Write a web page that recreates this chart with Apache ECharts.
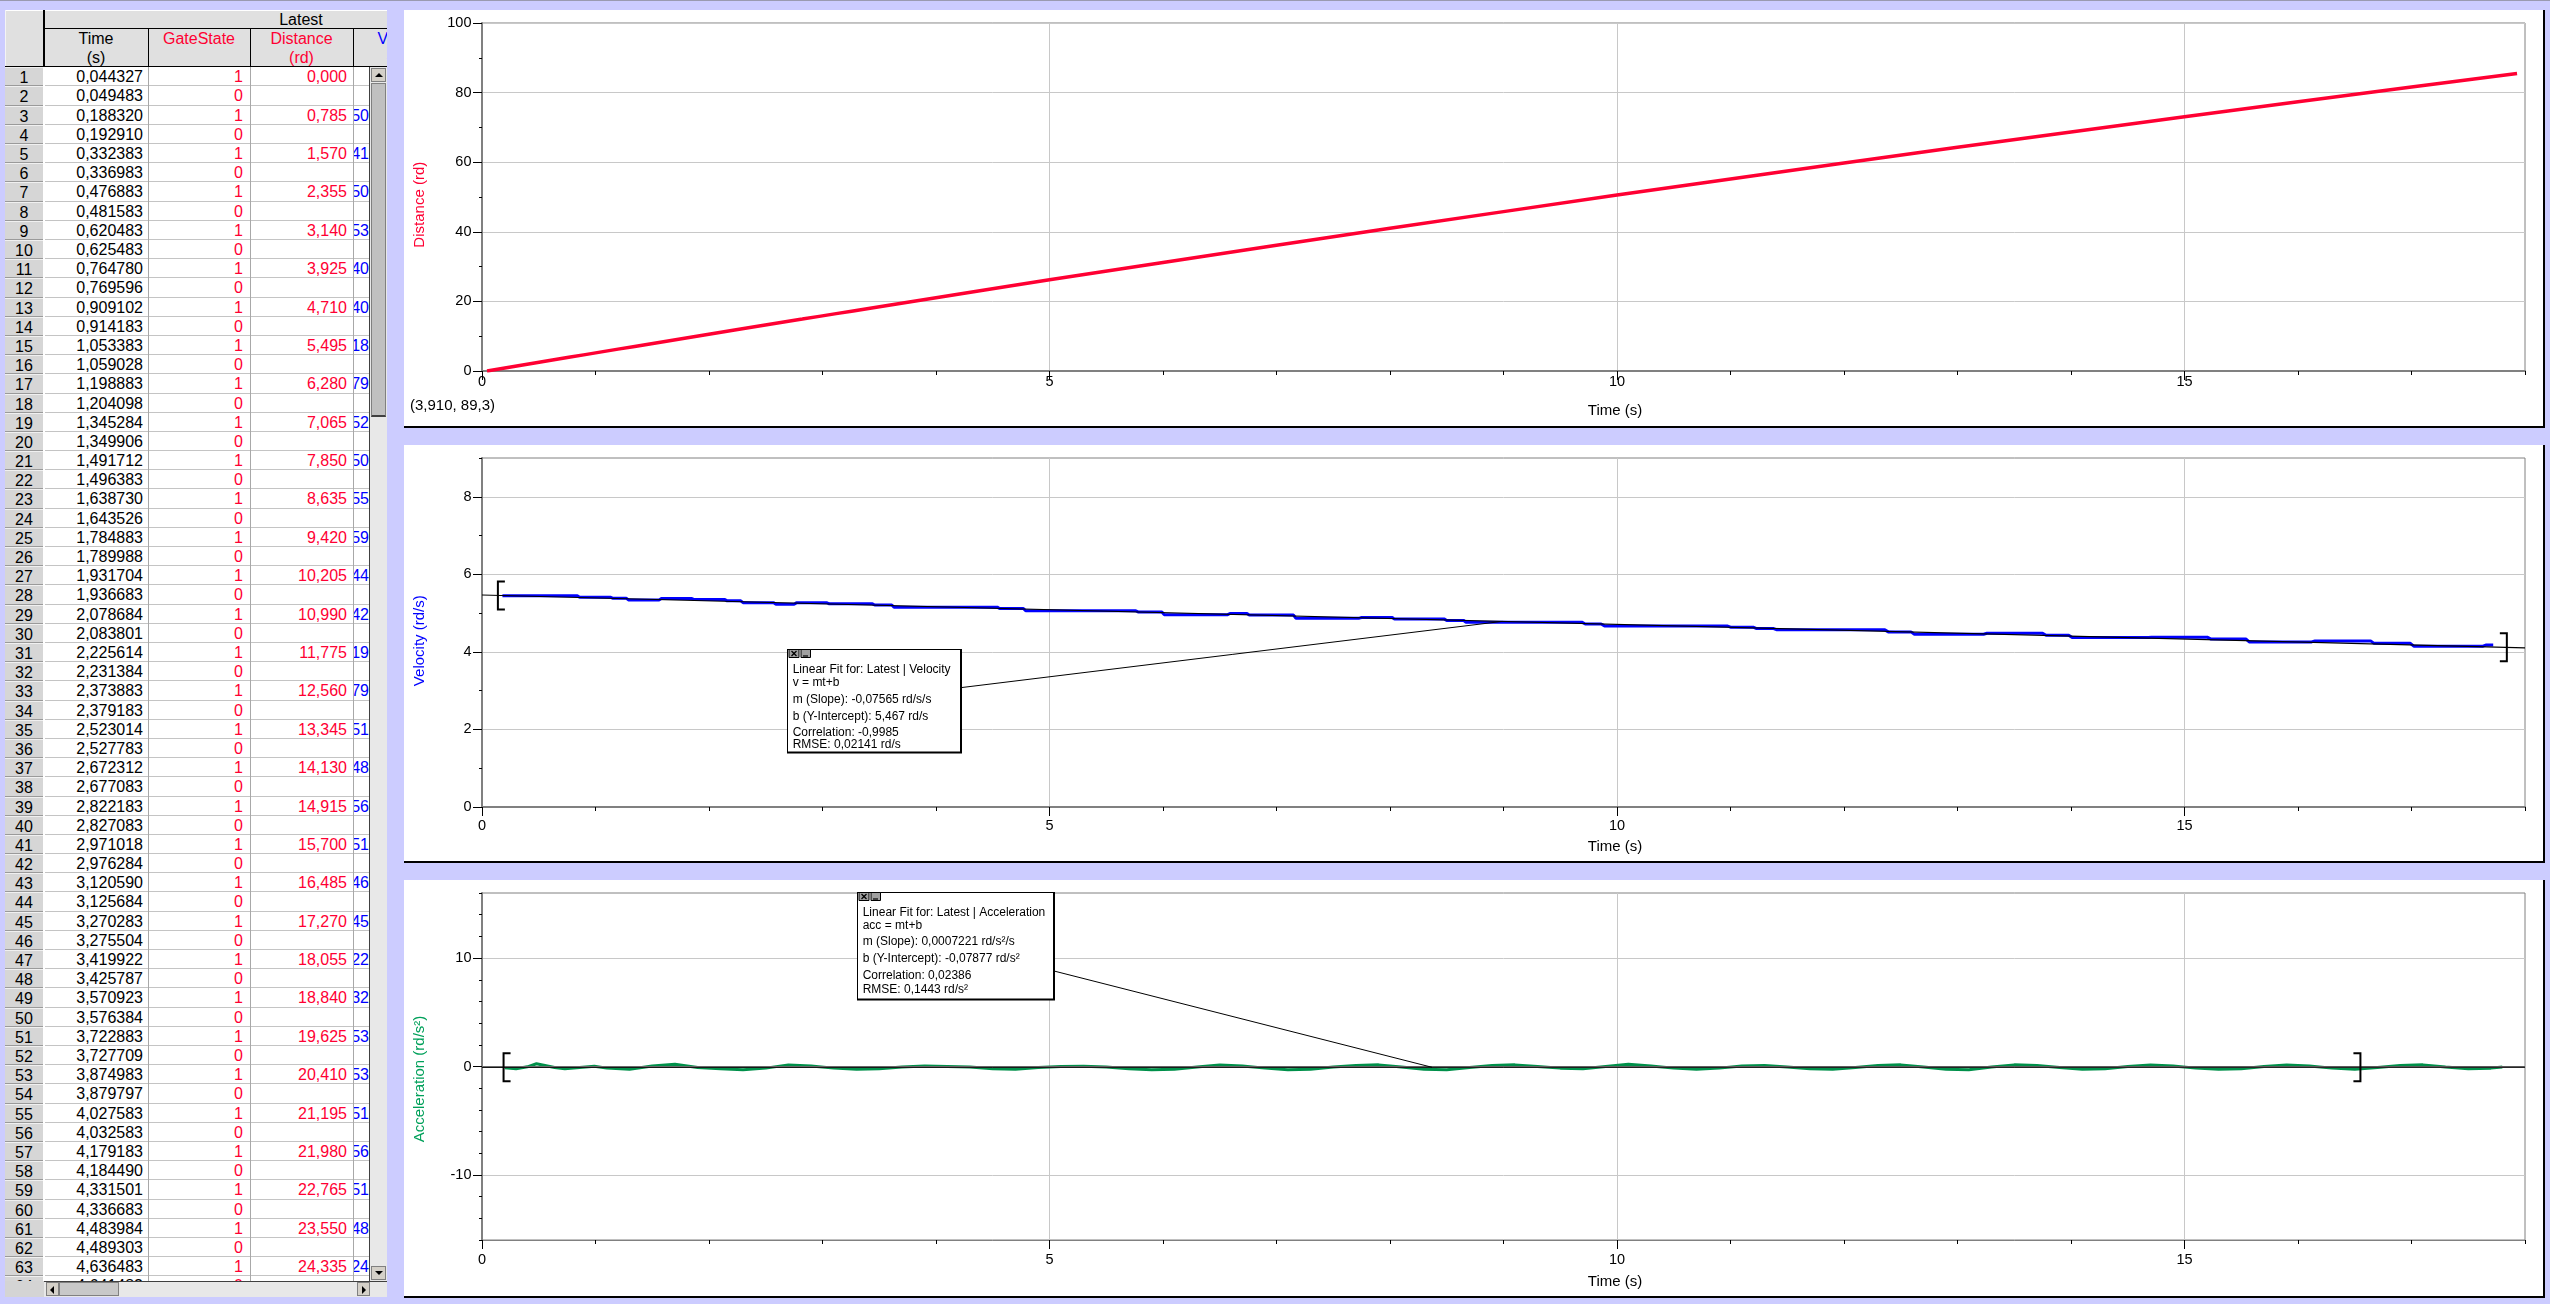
<!DOCTYPE html>
<html><head><meta charset="utf-8">
<script src="https://cdn.jsdelivr.net/npm/echarts@6/dist/echarts.min.js"></script>
<style>
html,body{margin:0;padding:0;}
body{background:#CCCCFF;width:2550px;height:1304px;overflow:hidden;position:relative;font-family:'Liberation Sans',Arial,sans-serif;}
#topline{position:absolute;left:0;top:0;width:2550px;height:1px;background:#9a9ab0;}
.panel{position:absolute;left:404px;width:2139px;height:416px;background:#fff;border-right:2px solid #000;border-bottom:2px solid #000;}
#chart{position:absolute;left:0;top:0;width:2550px;height:1304px;z-index:2;}
#tbl{position:absolute;left:0;top:0;width:390px;height:1304px;z-index:3;}
.abs{position:absolute;box-sizing:border-box;white-space:nowrap;overflow:hidden;}
.cell{font-size:16px;line-height:19px;}
</style></head>
<body>
<div id="topline"></div>
<div class="panel" style="top:10px"></div>
<div class="panel" style="top:445px"></div>
<div class="panel" style="top:880px"></div>
<div id="chart"></div>
<div id="tbl"></div>
<script>
// ---------------- DATA ----------------
const tableTimes = ['0,044327','0,049483','0,188320','0,192910','0,332383','0,336983','0,476883','0,481583','0,620483','0,625483',
 '0,764780','0,769596','0,909102','0,914183','1,053383','1,059028','1,198883','1,204098','1,345284','1,349906',
 '1,491712','1,496383','1,638730','1,643526','1,784883','1,789988','1,931704','1,936683','2,078684','2,083801',
 '2,225614','2,231384','2,373883','2,379183','2,523014','2,527783','2,672312','2,677083','2,822183','2,827083',
 '2,971018','2,976284','3,120590','3,125684','3,270283','3,275504','3,419922','3,425787','3,570923','3,576384',
 '3,722883','3,727709','3,874983','3,879797','4,027583','4,032583','4,179183','4,184490','4,331501','4,336683',
 '4,483984','4,489303','4,636483','4,641483'];
const gateStates = [1,0,1,0,1,0,1,0,1,0,1,0,1,0,1,0,1,0,1,0,1,0,1,0,1,0,1,0,1,0,1,0,1,0,1,0,1,0,1,0,1,0,1,0,1,0,1,0,1,0,1,0,1,0,1,0,1,0,1,0,1,0,1,0];
const tableDistances = ['0,000','','0,785','','1,570','','2,355','','3,140','','3,925','','4,710','','5,495','','6,280','','7,065','',
 '7,850','','8,635','','9,420','','10,205','','10,990','','11,775','','12,560','','13,345','','14,130','','14,915','',
 '15,700','','16,485','','17,270','','18,055','','18,840','','19,625','','20,410','','21,195','','21,980','','22,765','',
 '23,550','','24,335',''];
const velocityFragments = ['','','50','','41','','50','','53','','40','','40','','18','','79','','52','',
 '50','','55','','59','','44','','42','','19','','79','','51','','48','','56','',
 '51','','46','','45','','22','','32','','53','','53','','51','','56','','51','',
 '48','','24',''];

const distanceLater = [[5,26.2],[6,31.2],[7,36.15],[8,41.0],[9,45.8],[10,50.55],[11,55.2],[12,59.8],[13,64.3],[14,68.7],[15,73.05],[16,77.35],[17,81.6],[17.93,85.5]];

const velocity = [[0.18,5.445],[0.84,5.445],[0.86,5.41],[1.13,5.41],[1.15,5.385],[1.27,5.385],[1.29,5.34],[1.56,5.34],[1.58,5.375],[1.85,5.375],
 [1.87,5.35],[2.14,5.35],[2.16,5.316],[2.28,5.316],[2.30,5.27],[2.57,5.27],[2.59,5.23],[2.75,5.23],[2.77,5.264],[3.04,5.264],
 [3.06,5.24],[3.44,5.24],[3.46,5.21],[3.61,5.21],[3.63,5.153],[4.54,5.153],[4.56,5.12],[4.77,5.12],[4.79,5.06],[5.76,5.06],
 [5.78,5.03],[5.99,5.03],[6.01,4.96],[6.57,4.96],[6.59,4.99],[6.74,4.99],[6.76,4.95],[7.15,4.95],[7.17,4.87],[7.73,4.87],
 [7.75,4.885],[8.02,4.885],[8.04,4.845],[8.48,4.845],[8.50,4.81],[8.65,4.81],[8.67,4.762],[9.69,4.766],[9.72,4.72],[9.86,4.72],
 [9.89,4.67],[10.97,4.67],[11.0,4.637],[11.2,4.637],[11.23,4.60],[11.38,4.60],[11.41,4.568],[12.36,4.568],[12.39,4.516],[12.59,4.516],
 [12.62,4.456],[13.23,4.456],[13.26,4.48],[13.75,4.48],[13.78,4.43],[13.98,4.43],[14.01,4.37],[14.68,4.37],[14.71,4.38],[15.2,4.38],
 [15.23,4.335],[15.54,4.335],[15.57,4.258],[16.12,4.258],[16.15,4.284],[16.64,4.284],[16.67,4.22],[16.99,4.22],[17.02,4.147],[17.63,4.147],
 [17.66,4.18],[17.72,4.18]];
const velocityFit = [[0,5.467],[18,4.105]];
const velocityBrackets = [[0.14,5.456,1],[17.84,4.117,-1]];
const velocityAnchor = [8.99,4.787];

const acceleration = [[0.20,-0.12],[0.30,-0.21],[0.40,-0.03],[0.48,0.25],[0.64,-0.09],[0.73,-0.21],[0.86,-0.09],[0.99,0.03],[1.1,-0.15],[1.3,-0.25],
 [1.5,0.05],[1.7,0.2],[1.9,-0.1],[2.1,-0.2],[2.3,-0.3],[2.5,-0.15],[2.7,0.15],[2.9,0.05],[3.1,-0.15],[3.3,-0.25],
 [3.5,-0.2],[3.7,-0.05],[3.9,0.05],[4.1,0.0],[4.3,-0.05],[4.5,-0.2],[4.7,-0.25],[4.9,-0.1],[5.1,0.0],[5.3,0.02],
 [5.5,-0.05],[5.7,-0.2],[5.9,-0.3],[6.1,-0.25],[6.3,-0.05],[6.5,0.15],[6.7,0.05],[6.9,-0.15],[7.1,-0.3],[7.3,-0.25],
 [7.5,-0.05],[7.7,0.1],[7.9,0.15],[8.1,-0.05],[8.3,-0.25],[8.5,-0.3],[8.7,-0.1],[8.9,0.1],[9.1,0.15],[9.3,0.0],
 [9.5,-0.15],[9.7,-0.2],[9.9,0.0],[10.1,0.2],[10.3,0.05],[10.5,-0.15],[10.7,-0.25],[10.9,-0.15],[11.1,0.05],[11.3,0.1],
 [11.5,-0.05],[11.7,-0.2],[11.9,-0.25],[12.1,-0.1],[12.3,0.1],[12.5,0.15],[12.7,-0.05],[12.9,-0.25],[13.1,-0.3],[13.3,-0.05],
 [13.5,0.15],[13.7,0.1],[13.9,-0.1],[14.1,-0.25],[14.3,-0.2],[14.5,0.0],[14.7,0.15],[14.9,0.05],[15.1,-0.15],[15.3,-0.25],
 [15.5,-0.2],[15.7,0.0],[15.9,0.15],[16.1,0.05],[16.3,-0.15],[16.5,-0.25],[16.7,-0.1],[16.9,0.1],[17.1,0.15],[17.3,-0.05],
 [17.5,-0.2],[17.7,-0.15],[17.8,-0.05]];
const accelerationFit = [[0,-0.079],[18,-0.066]];
const accelerationBrackets = [[0.19,-0.079,1],[16.55,-0.067,-1]];
const accelerationAnchor = [8.37,-0.073];

const distanceTicks = [0,20,40,60,80,100];
const velocityTicks = [0,2,4,6,8];
const accelerationTicks = [-10,0,10];
const timeTicks = [0,5,10,15];

const velocityFitText = ['Linear Fit for: Latest | Velocity','v = mt+b','m (Slope): -0,07565 rd/s/s','b (Y-Intercept): 5,467 rd/s','Correlation: -0,9985','RMSE: 0,02141 rd/s'];
const accelerationFitText = ['Linear Fit for: Latest | Acceleration','acc = mt+b','m (Slope): 0,0007221 rd/s²/s','b (Y-Intercept): -0,07877 rd/s²','Correlation: 0,02386','RMSE: 0,1443 rd/s²'];

// ---------------- TABLE ----------------
(function buildTable(){
  const t = document.getElementById('tbl');
  let h = '';
  const RED = '#FF0033', BLUE = '#0000FF';
  h += '<div class="abs" style="left:5px;top:10px;width:382px;height:57.3px;background:#E0E0E0;border-top:1px solid #fff;"></div>';
  h += '<div class="abs" style="left:5px;top:10px;width:1px;height:1271px;background:#f4f4f4;"></div>';
  h += '<div class="abs" style="left:44px;top:28px;width:343px;height:1px;background:#000;"></div>';
  h += '<div class="abs cell" style="left:44px;top:10px;width:343px;height:18px;"><span style="position:absolute;left:257px;top:0px;width:0;"><span style="position:absolute;transform:translateX(-50%);">Latest</span></span></div>';
  h += '<div class="abs" style="left:43px;top:10px;width:2px;height:1271px;background:#000;"></div>';
  h += '<div class="abs" style="left:5px;top:66px;width:382px;height:2px;background:#000;"></div>';
  [147.5,249.5,352.5].forEach(x=>{ h += '<div class="abs" style="left:'+x+'px;top:28px;width:1.3px;height:39px;background:#000;"></div>'; });
  const hdr = [[44,104,'Time','(s)','#000'],[148,102,'GateState','',RED],[250,103,'Distance','(rd)',RED],[353,104,'Velocity','(rd/s)',BLUE]];
  h += '<div class="abs" style="left:0;top:28px;width:387px;height:39px;">';
  hdr.forEach(c=>{
    h += '<div class="abs cell" style="left:'+c[0]+'px;top:0;width:'+c[1]+'px;height:39px;text-align:center;color:'+c[4]+';line-height:19px;padding-top:1px;overflow:visible;">'+c[2]+'<br>'+c[3]+'</div>';
  });
  h += '</div>';
  const top0 = 67.3, rowH = 19.19;
  h += '<div class="abs" style="left:5px;top:'+top0+'px;width:364px;height:'+(1280.7-top0)+'px;background:#fff;">';
  for (let i=0;i<tableTimes.length;i++){
    const y = (i*rowH).toFixed(2);
    h += '<div class="abs cell" style="left:0;top:'+y+'px;width:38px;height:'+rowH+'px;background:#D6D6D6;border-bottom:1px solid #9a9a9a;border-top:1px solid #f0f0f0;text-align:center;color:#000;">'+(i+1)+'</div>';
    h += '<div class="abs" style="left:40px;top:'+y+'px;width:324px;height:'+rowH+'px;border-bottom:1px solid #c4c4c4;"></div>';
    h += '<div class="abs cell" style="left:40px;top:'+y+'px;width:103px;height:'+rowH+'px;text-align:right;padding-right:5px;color:#000;">'+tableTimes[i]+'</div>';
    h += '<div class="abs cell" style="left:143px;top:'+y+'px;width:102px;height:'+rowH+'px;text-align:right;padding-right:7px;color:'+RED+';">'+gateStates[i]+'</div>';
    h += '<div class="abs cell" style="left:245px;top:'+y+'px;width:103px;height:'+rowH+'px;text-align:right;padding-right:6px;color:'+RED+';">'+tableDistances[i]+'</div>';
    h += '<div class="abs cell" style="left:349px;top:'+y+'px;width:15px;height:'+rowH+'px;direction:rtl;text-align:right;color:'+BLUE+';">'+velocityFragments[i]+'</div>';
  }
  [142.5,244.5,347.5].forEach(x=>{ h += '<div class="abs" style="left:'+x+'px;top:0;width:1px;height:1214px;background:#a8a8a8;"></div>'; });
  h += '</div>';
  h += '<div class="abs" style="left:369px;top:67.3px;width:18px;height:1213.4px;background:#E8E8E8;border-left:1px solid #404040;"></div>';
  h += '<div class="abs" style="left:371px;top:68px;width:15px;height:14px;background:#D4D0C8;border:1px solid #808080;"><div style="position:absolute;left:3px;top:4px;width:0;height:0;border-left:4px solid transparent;border-right:4px solid transparent;border-bottom:4px solid #000;"></div></div>';
  h += '<div class="abs" style="left:371px;top:83px;width:15px;height:334px;background:#C0C0C0;border:1px solid #808080;border-bottom:2px solid #404040;"></div>';
  h += '<div class="abs" style="left:371px;top:1266px;width:15px;height:14px;background:#D4D0C8;border:1px solid #808080;"><div style="position:absolute;left:3px;top:4px;width:0;height:0;border-left:4px solid transparent;border-right:4px solid transparent;border-top:4px solid #000;"></div></div>';
  h += '<div class="abs" style="left:5px;top:1280.7px;width:382px;height:16px;background:#E8E8E8;border-top:1px solid #404040;"></div>';
  h += '<div class="abs" style="left:5px;top:1281px;width:39px;height:16px;background:#D4D4D4;"></div>';
  h += '<div class="abs" style="left:46px;top:1282px;width:13px;height:14px;background:#D4D0C8;border:1px solid #808080;"><div style="position:absolute;left:3px;top:3px;width:0;height:0;border-top:4px solid transparent;border-bottom:4px solid transparent;border-right:4px solid #000;"></div></div>';
  h += '<div class="abs" style="left:59px;top:1282px;width:60px;height:14px;background:#C8C8C8;border:1px solid #808080;"></div>';
  h += '<div class="abs" style="left:357px;top:1282px;width:13px;height:14px;background:#D4D0C8;border:1px solid #808080;"><div style="position:absolute;left:4px;top:3px;width:0;height:0;border-top:4px solid transparent;border-bottom:4px solid transparent;border-left:4px solid #000;"></div></div>';
  t.innerHTML = h;
})();

// ---------------- CHART ----------------
const FONT = "'Liberation Sans', Arial, sans-serif";
const toNum = s => parseFloat(s.replace(',', '.'));
const distanceSeries = [];
tableTimes.forEach((tm,i)=>{ if (gateStates[i]===1 && tableDistances[i]!=='') distanceSeries.push([toNum(tm), toNum(tableDistances[i])]); });
distanceLater.forEach(p=>distanceSeries.push(p));

const grids = [
  {left:482, right:25, top:23, height:348},
  {left:482, right:25, top:458, height:349},
  {left:482, right:25, top:893, height:347}
].map(g=>Object.assign(g,{show:true,borderColor:'#808080',borderWidth:1,backgroundColor:'transparent'}));

const labelMargins = [3,11.5,12];
const xAxes = [], yAxes = [];
const yDefs = [
  {min:0,max:100,ticks:distanceTicks,minor:10,lineW:2},
  {min:0,max:9,ticks:velocityTicks,minor:1,lineW:2},
  {min:-16,max:16,ticks:accelerationTicks,minor:2,lineW:2}
];
for (let g=0; g<3; g++){
  xAxes.push({gridIndex:g,type:'value',min:0,max:18,interval:5,
    axisLine:{show:true,onZero:false,lineStyle:{color:'#808080',width: g===2?1:2}},
    axisTick:{show:true,length:9,customValues:timeTicks,lineStyle:{color:'#000',width:1}},
    axisLabel:{show:true,margin:labelMargins[g],customValues:timeTicks,color:'#000',fontSize:14.5,fontFamily:FONT,
      formatter:v=> (timeTicks.indexOf(v)>=0 ? String(v) : '')},
    splitLine:{show:true,lineStyle:{color:'#C8C8C8',width:1}}});
  xAxes.push({gridIndex:g,type:'value',min:0,max:18,interval:1,position:'bottom',
    axisLine:{show:false,onZero:false},axisTick:{show:true,length:4,lineStyle:{color:'#000',width:1}},
    axisLabel:{show:false},splitLine:{show:false}});
  const d = yDefs[g];
  yAxes.push({gridIndex:g,type:'value',min:d.min,max:d.max,interval:d.minor,
    axisLine:{show:true,onZero:false,lineStyle:{color:'#808080',width:d.lineW}},
    axisTick:{show:true,length:9,customValues:d.ticks,lineStyle:{color:'#000',width:1}},
    axisLabel:{show:true,margin:10.5,customValues:d.ticks,color:'#000',fontSize:14.5,fontFamily:FONT,
      formatter:v=> (d.ticks.indexOf(v)>=0 ? String(v) : '')},
    splitLine:{show:true,lineStyle:{color:'#C8C8C8',width:1}}});
  yAxes.push({gridIndex:g,type:'value',min:d.min,max:d.max,interval:d.minor,position:'left',
    axisLine:{show:false,onZero:false},axisTick:{show:true,length:3,lineStyle:{color:'#000',width:1}},
    axisLabel:{show:false},splitLine:{show:false}});
}

function bracketSeries(data, xi, yi){
  return {type:'custom', xAxisIndex:xi, yAxisIndex:yi, data:data, z:6, silent:true,
    renderItem:(params, api)=>{
      const p = api.coord([api.value(0), api.value(1)]);
      const dir = api.value(2), hh = 14, w = 7;
      return {type:'polyline', shape:{points:[[p[0]+dir*w,p[1]-hh],[p[0],p[1]-hh],[p[0],p[1]+hh],[p[0]+dir*w,p[1]+hh]]},
        style:{stroke:'#000',lineWidth:2,fill:null}};
    }};
}

const GREEN_TXT = '#00A05A', GREEN_LINE = '#00904A';
const option = {
  backgroundColor:'transparent',
  animation:false,
  grid:grids, xAxis:xAxes, yAxis:yAxes,
  series:[
    {type:'line', xAxisIndex:0, yAxisIndex:0, data:distanceSeries, showSymbol:false, z:4,
      lineStyle:{color:'#FF0033',width:3.5}, itemStyle:{color:'#FF0033'}},
    {type:'line', xAxisIndex:2, yAxisIndex:2, data:velocity, showSymbol:false, z:4,
      lineStyle:{color:'#0000FF',width:3}, itemStyle:{color:'#0000FF'}},
    {type:'line', xAxisIndex:2, yAxisIndex:2, data:velocityFit, showSymbol:false, z:5,
      lineStyle:{color:'#000',width:1.2}},
    bracketSeries(velocityBrackets,2,2),
    {type:'line', xAxisIndex:4, yAxisIndex:4, data:[], showSymbol:false, z:2, silent:true,
      markLine:{silent:true, symbol:['none','none'], label:{show:false}, animation:false,
        lineStyle:{color:'#808080',width:2,type:'solid'}, data:[{yAxis:0}]}},
    {type:'line', xAxisIndex:4, yAxisIndex:4, data:acceleration, showSymbol:false, z:4,
      lineStyle:{color:GREEN_LINE,width:3}, itemStyle:{color:GREEN_LINE}},
    {type:'line', xAxisIndex:4, yAxisIndex:4, data:accelerationFit, showSymbol:false, z:5,
      lineStyle:{color:'#000',width:1}},
    bracketSeries(accelerationBrackets,4,4)
  ]
};

const chart = echarts.init(document.getElementById('chart'), null, {renderer:'canvas', width:2550, height:1304});
chart.setOption(option);

// ---------------- ANNOTATIONS ----------------
function txt(x,y,s,color,size,rot,align){
  const e = {type:'text', x:x, y:y, z:10, silent:true,
    style:{text:s, fill:color, fontSize:size, fontFamily:FONT, align:align||'center', verticalAlign:'middle'}};
  if (rot) e.rotation = rot;
  return e;
}
function icons(x,y){
  return [
    {type:'rect', z:12, shape:{x:x+0.5,y:y+0.5,width:10,height:8}, style:{fill:'#A0A0A0',stroke:'#000',lineWidth:1}},
    {type:'line', z:13, shape:{x1:x+3,y1:y+2,x2:x+8,y2:y+7}, style:{stroke:'#000',lineWidth:1.2}},
    {type:'line', z:13, shape:{x1:x+8,y1:y+2,x2:x+3,y2:y+7}, style:{stroke:'#000',lineWidth:1.2}},
    {type:'rect', z:12, shape:{x:x+12.5,y:y+0.5,width:9.5,height:8}, style:{fill:'#A0A0A0',stroke:'#000',lineWidth:1}},
    {type:'line', z:13, shape:{x1:x+14.5,y1:y+7,x2:x+19.5,y2:y+7}, style:{stroke:'#000',lineWidth:1.2}}
  ];
}
function box(x,y,w,h,lines,ys,tx){
  const els = [
    {type:'rect', z:10, shape:{x:x,y:y,width:w,height:h}, style:{fill:'#000'}},
    {type:'rect', z:11, shape:{x:x+1,y:y+1,width:w-3,height:h-3}, style:{fill:'#fff'}}
  ];
  lines.forEach((s,i)=>els.push(Object.assign(txt(tx, ys[i], s, '#000', 12, 0, 'left'),{z:12})));
  return els.concat(icons(x+1.5,y));
}
const vA = chart.convertToPixel({gridIndex:1}, velocityAnchor);
const aA = chart.convertToPixel({gridIndex:2}, accelerationAnchor);
const graphics = [
  txt(420,204.7,'Distance (rd)','#FF0033',15,Math.PI/2),
  txt(420,640.7,'Velocity (rd/s)','#0000FF',15,Math.PI/2),
  txt(420,1079,'Acceleration (rd/s²)',GREEN_TXT,15,Math.PI/2),
  txt(1615,411,'Time (s)','#000',15),
  txt(1615,847,'Time (s)','#000',15),
  txt(1615,1281.5,'Time (s)','#000',15),
  txt(410,406,'(3,910, 89,3)','#000',15,0,'left'),
  {type:'line', z:9, silent:true, shape:{x1:962,y1:687.5,x2:vA[0],y2:vA[1]}, style:{stroke:'#000',lineWidth:1}},
  {type:'line', z:9, silent:true, shape:{x1:1054,y1:971,x2:aA[0],y2:aA[1]}, style:{stroke:'#000',lineWidth:1}}
].concat(
  box(787,649,175,104.5,velocityFitText,[670,683,700,717,732.7,745],792.7),
  box(857,892,198,108.5,accelerationFitText,[912.7,926,941.7,959,975.7,990],862.7)
);
chart.setOption({graphic:{elements:graphics}});
</script>
</body></html>
